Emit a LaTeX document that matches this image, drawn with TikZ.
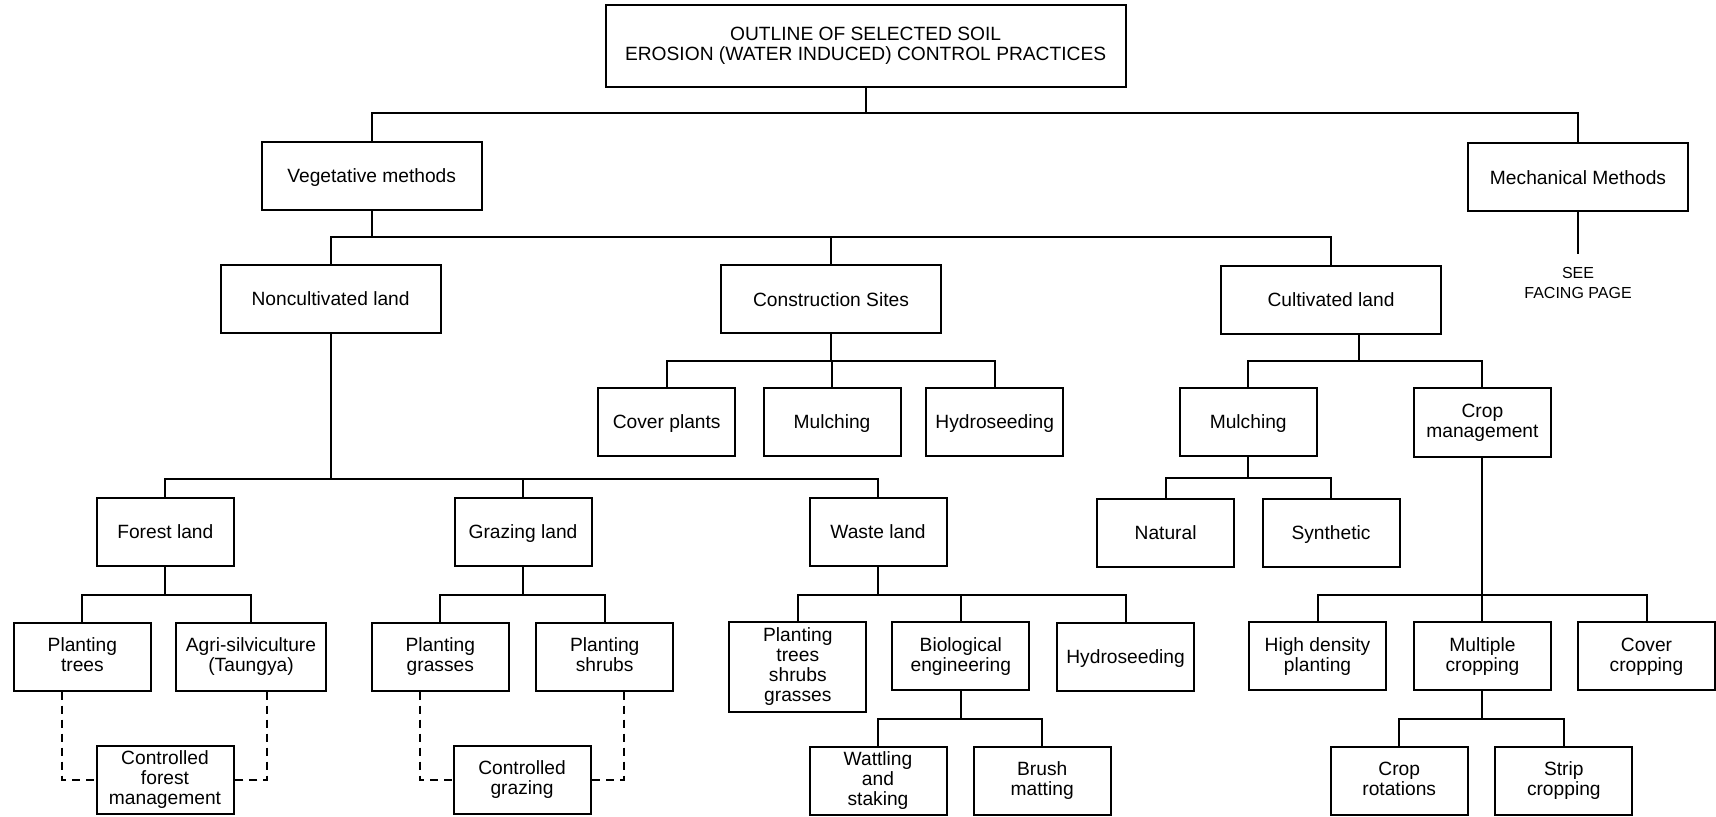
\documentclass[tikz,border=0pt]{standalone}
\usepackage{fontspec}
\setmainfont{Liberation Sans}
\newcommand\boxstrut{\vrule width 0pt height 8.9pt depth 2pt}
\begin{document}
\begin{tikzpicture}[x=0.5pt,y=-0.5pt,
  box/.style={draw,line width=1pt,align=center,inner sep=0pt,minimum width=68.5pt,minimum height=34pt,
    font=\fontsize{9.6}{10}\selectfont,execute at begin node=\boxstrut,execute at end node=\boxstrut},
  wide/.style={box,minimum width=110pt},
  link/.style={line width=1pt},
  dashlink/.style={line width=1pt,dash pattern=on 4pt off 3pt}]
\useasboundingbox (0,0) rectangle (1716,817);
\node[box,minimum width=260pt,minimum height=41pt] (title) at (865.6,45.8) {OUTLINE OF SELECTED SOIL\\EROSION (WATER INDUCED) CONTROL PRACTICES};
\node[wide] (veg) at (371.7,175.7) {Vegetative methods};
\node[wide] (mech) at (1578,177.3) {Mechanical Methods};
\node[align=center,anchor=north,inner sep=0pt,font=\fontsize{8}{10}\selectfont] (see) at (1578,267) {SEE\\FACING PAGE};
\node[wide] (noncult) at (330.6,299) {Noncultivated land};
\node[wide] (constr) at (831,299.5) {Construction Sites};
\node[wide] (cult) at (1331,300) {Cultivated land};
\node[box] (coverpl) at (666.7,422) {Cover plants};
\node[box] (mulchcs) at (832,422) {Mulching};
\node[box] (hydrocs) at (994.7,422) {Hydroseeding};
\node[box] (mulchcl) at (1248.2,422) {Mulching};
\node[box] (cropman) at (1482.4,422.5) {Crop\\management};
\node[box] (forest) at (165.3,532) {Forest land};
\node[box] (grazing) at (523,532) {Grazing land};
\node[box] (waste) at (878,532) {Waste land};
\node[box] (natural) at (1165.6,533) {Natural};
\node[box] (synth) at (1331,533) {Synthetic};
\node[box] (ptrees) at (82.4,656.7) {Planting\\trees};
\node[box,minimum width=75pt] (agri) at (251,656.7) {Agri-silviculture\\(Taungya)};
\node[box] (pgrass) at (440.3,656.7) {Planting\\grasses};
\node[box] (pshrub) at (604.7,656.7) {Planting\\shrubs};
\node[box,minimum height=44.7pt] (ptsg) at (797.8,667) {Planting\\trees\\shrubs\\grasses};
\node[box] (bioeng) at (960.8,656.4) {Biological\\engineering};
\node[box] (hydrowl) at (1125.6,657) {Hydroseeding};
\node[box] (highden) at (1317.5,656.4) {High density\\planting};
\node[box] (multcrop) at (1482.4,656.4) {Multiple\\cropping};
\node[box] (covercr) at (1646.5,656.4) {Cover\\cropping};
\node[box] (ctrlfor) at (165,780) {Controlled\\forest\\management};
\node[box] (ctrlgr) at (522,779.7) {Controlled\\grazing};
\node[box] (wattle) at (878,780.8) {Wattling\\and\\staking};
\node[box] (brush) at (1042.2,780.8) {Brush\\matting};
\node[box] (croprot) at (1399.2,780.5) {Crop\\rotations};
\node[box] (strip) at (1563.8,780.5) {Strip\\cropping};
\foreach \p/\y/\cs in {title/113.5/{veg,mech}, veg/237.5/{noncult,constr,cult},
    constr/361/{coverpl,mulchcs,hydrocs}, noncult/478.5/{forest,grazing,waste},
    mulchcl/478/{natural,synth}, cropman/595/{highden,multcrop,covercr},
    forest/595/{ptrees,agri}, grazing/595/{pgrass,pshrub}, waste/595/{ptsg,bioeng,hydrowl},
    bioeng/718.5/{wattle,brush}, multcrop/719/{croprot,strip}}
  \foreach \c in \cs
    \draw[link] (\p.south) -- (\p.south |- 0,\y) -| (\c.north);
\coordinate (cultjoin) at (1359,361);
\foreach \c in {mulchcl,cropman}
  \draw[link] (cultjoin |- cult.south) -- (cultjoin) -| (\c.north);
\draw[link] (mech.south) -- ([yshift=6.5pt]see.north);
\draw[dashlink] ([xshift=-10pt]ptrees.south) |- (ctrlfor.west);
\draw[dashlink] ([xshift=8pt]agri.south) |- (ctrlfor.east);
\draw[dashlink] ([xshift=-10pt]pgrass.south) |- (ctrlgr.west);
\draw[dashlink] ([xshift=9.5pt]pshrub.south) |- (ctrlgr.east);
\end{tikzpicture}
\end{document}
